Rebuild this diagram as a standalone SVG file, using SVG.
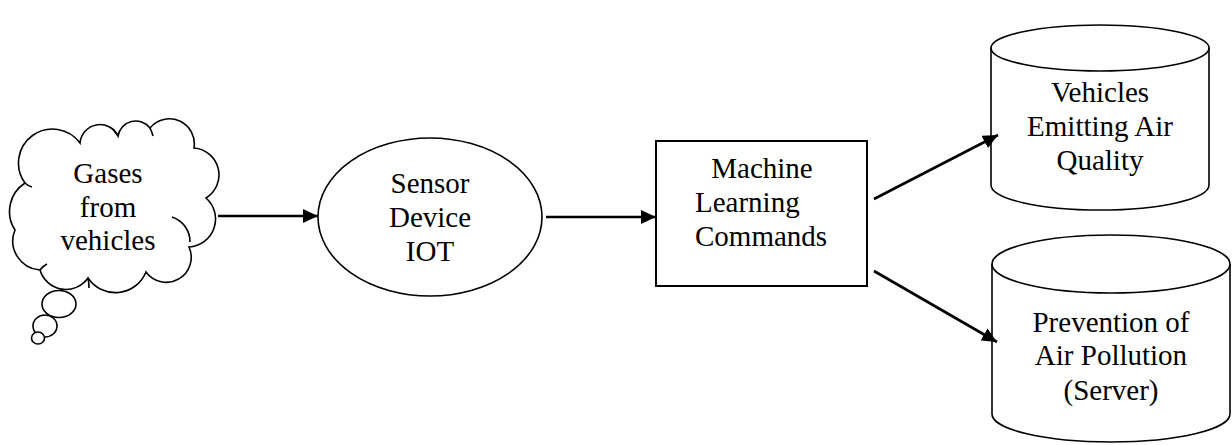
<svg xmlns="http://www.w3.org/2000/svg" width="1232" height="445" viewBox="0 0 1232 445">
<style>
.shape{fill:#fff;stroke:#000;stroke-width:1.6}
.hook{fill:none;stroke:#000;stroke-width:1.6}
.box{fill:#fff;stroke:#000;stroke-width:2}
.lbl{font-family:"Liberation Serif","Times New Roman",serif;font-size:29px;fill:#000}
.c{text-anchor:middle}
.conn{stroke:#000;stroke-width:2.6;fill:none}
</style>
<defs>
<marker id="ah" markerWidth="15" markerHeight="14" refX="15" refY="7" orient="auto" markerUnits="userSpaceOnUse">
<path d="M0,0 L15,7 L0,14 Z" fill="#000"/>
</marker>
</defs>
<g id="cloud">
<path class="shape" d="M25,183 A23,23 0 0 1 80,143 A20,20 0 0 1 118,136 A18,18 0 0 1 150,128 A25,25 0 0 1 194,148 A27,27 0 0 1 206,198 A28,28 0 0 1 189,247 A25,25 0 0 1 146,272 A33,33 0 0 1 88,278 A27,27 0 0 1 40,270 A29,29 0 0 1 15,230 A34,34 0 0 1 25,183 Z"/>
<path class="hook" d="M118,136 Q115,132 113,129"/>
<path class="hook" d="M150,128 Q152,132 153,136"/>
<path class="hook" d="M172,217 A26,26 0 0 1 190,242"/>
<path class="hook" d="M25,183 Q28,186 32,187"/>
<path class="hook" d="M40,270 Q43,266 47,264"/>
<path class="hook" d="M88,278 Q89,283 89,288"/>
<ellipse class="shape" cx="59" cy="304" rx="17" ry="13.5"/>
<ellipse class="shape" cx="45" cy="326" rx="12" ry="11"/>
<ellipse class="shape" cx="38" cy="338" rx="6.5" ry="6"/>
<text class="lbl c" x="108" y="183">Gases</text>
<text class="lbl c" x="108" y="217">from</text>
<text class="lbl c" x="108" y="250">vehicles</text>
</g>
<g id="sensor">
<ellipse class="shape" cx="430" cy="217" rx="112" ry="79"/>
<text class="lbl c" x="430" y="193">Sensor</text>
<text class="lbl c" x="430" y="227">Device</text>
<text class="lbl c" x="430" y="261">IOT</text>
</g>
<g id="ml">
<rect class="box" x="656" y="141" width="211" height="145"/>
<text class="lbl c" x="762" y="178">Machine</text>
<text class="lbl" x="695" y="212">Learning</text>
<text class="lbl" x="695" y="246">Commands</text>
</g>
<g id="db1">
<path class="shape" d="M991,48 L991,185 A109,25 0 0 0 1209,185 L1209,48"/>
<ellipse class="shape" cx="1100" cy="48" rx="109" ry="23"/>
<text class="lbl c" x="1100" y="102">Vehicles</text>
<text class="lbl c" x="1100" y="136">Emitting Air</text>
<text class="lbl c" x="1100" y="170">Quality</text>
</g>
<g id="db2">
<path class="shape" d="M992,264 L992,414 A119,28 0 0 0 1230,414 L1230,264"/>
<ellipse class="shape" cx="1111" cy="264" rx="119" ry="29"/>
<text class="lbl c" x="1111" y="332">Prevention of</text>
<text class="lbl c" x="1111" y="365">Air Pollution</text>
<text class="lbl c" x="1111" y="400">(Server)</text>
</g>
<g id="connectors">
<line class="conn" x1="218" y1="216" x2="318" y2="216" marker-end="url(#ah)"/>
<line class="conn" x1="546" y1="217" x2="656" y2="217" marker-end="url(#ah)"/>
<line class="conn" x1="874" y1="199" x2="998" y2="135" marker-end="url(#ah)"/>
<line class="conn" x1="874" y1="271" x2="997" y2="342" marker-end="url(#ah)"/>
</g>
</svg>
